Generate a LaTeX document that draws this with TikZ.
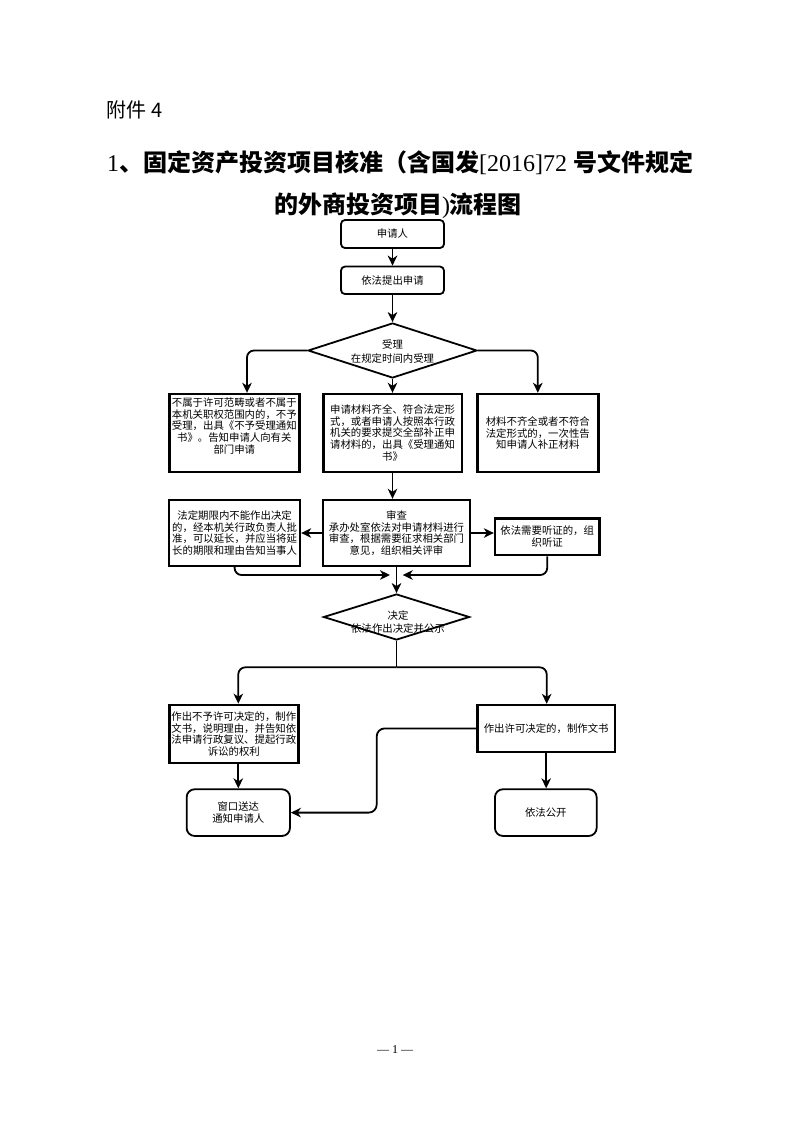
\documentclass[tikz,border=0pt]{standalone}
\usepackage{fontspec}
\setmainfont{Liberation Serif}
\newfontfamily\cjk{Noto Sans CJK SC}
\usetikzlibrary{arrows.meta,shapes.geometric}
\begin{document}
\begin{tikzpicture}[x=1pt,y=-1pt,
  every node/.style={inner sep=0pt, align=center, font=\cjk\fontsize{10.4}{11.6}\selectfont},
  rbox/.style={draw, line width=1.8pt, rounded corners=4pt},
  rbox2/.style={draw, line width=1.8pt, rounded corners=8pt},
  sbox/.style={draw, line width=2.4pt},
  dia/.style={draw, diamond, line width=1.8pt, inner sep=0pt},
  dtext/.style={font=\cjk\fontsize{10.4}{13.8}\selectfont},
  arr/.style={draw, line width=1.8pt, -{Stealth[length=10pt,width=9.5pt,inset=3pt]}},
  ln/.style={draw, line width=1.8pt}]
\useasboundingbox (0,0) rectangle (793,1122);
\fill[white] (0,0) rectangle (793,1122);

% header
\node[anchor=base west, font=\cjk\fontsize{20}{24}\selectfont] (att) at (106,117) {附件\hspace{5pt}4};
\node[anchor=base west, font=\fontsize{24}{28}\selectfont] (t1) at (107,171)
  {1{\cjk\bfseries 、固定资产投资项目核准（含国发}[2016]72 {\cjk\bfseries 号文件规定}};
\node[anchor=base, font=\fontsize{24}{28}\selectfont] (t2) at (398,213)
  {{\cjk\bfseries 的外商投资项目}){\cjk\bfseries 流程图}};

% top
\node[rbox, minimum width=103pt, minimum height=28pt] (n1) at (392.5,234) {申请人};
\node[rbox, minimum width=103pt, minimum height=27.5pt] (n2) at (392.5,280.3) {依法提出申请};
\node[dia, minimum width=169pt, minimum height=55pt] (d1) at (392.5,350.5) {};
\node[dtext] (d1t) at (392.5,351.5) {受理\\在规定时间内受理};

% row 1
\node[sbox, minimum width=130pt, minimum height=78pt] (b1) at (234.3,433) {};
\node (b1t) at ([yshift=7pt]b1.center) {不属于许可范畴或者不属于\\本机关职权范围内的，不予\\受理，出具《不予受理通知\\书》。告知申请人向有关\\部门申请};
\node[sbox, minimum width=138.4pt, minimum height=78pt] (b2) at (392.5,433)
  {申请材料齐全、符合法定形\\式，或者申请人按照本行政\\机关的要求提交全部补正申\\请材料的，出具《受理通知\\书》};
\node[sbox, minimum width=121pt, minimum height=78pt] (b3) at (537.8,433)
  {材料不齐全或者不符合\\法定形式的，一次性告\\知申请人补正材料};

% row 2
\node[sbox, minimum width=130.7pt, minimum height=66pt] (c1) at (234.6,533)
  {法定期限内不能作出决定\\的，经本机关行政负责人批\\准，可以延长，并应当将延\\长的期限和理由告知当事人};
\node[sbox, minimum width=146.7pt, minimum height=66pt] (c2) at (396.5,533)
  {审查\\承办处室依法对申请材料进行\\审查，根据需要征求相关部门\\意见，组织相关评审};
\node[sbox, minimum width=104.3pt, minimum height=36.7pt] (c3) at (547.2,536.7)
  {依法需要听证的，组\\织听证};
\coordinate (m) at (396.5,575);

% decision
\node[dia, minimum width=146pt, minimum height=46pt] (d2) at (396.5,617) {};
\node[dtext] (d2t) at (398,622) {决定\\依法作出决定并公示};
\coordinate (s) at (396.5,667.3);

% row 3
\node[sbox, minimum width=129pt, minimum height=58.3pt] (e1) at (233.8,734)
  {作出不予许可决定的，制作\\文书，说明理由，并告知依\\法申请行政复议、提起行政\\诉讼的权利};
\node[sbox, minimum width=137.7pt, minimum height=46.7pt] (e2) at (546.2,728.4)
  {作出许可决定的，制作文书};
\node[rbox2, minimum width=103.3pt, minimum height=46.7pt] (f1) at (238.3,812.6)
  {窗口送达\\通知申请人};
\node[rbox2, minimum width=101.7pt, minimum height=46.7pt] (f2) at (545.8,812.6)
  {依法公开};
\coordinate (k) at (376.7,812.6);

% page number
\node[anchor=base, font=\fontsize{12}{14}\selectfont] (pg) at (395,1053) {— 1 —};

% connectors
\draw[arr] (n1.south) -- (n2.north);
\draw[arr] (n2.south) -- (d1.north);
\draw[arr, rounded corners=7pt] (d1.west) -| ([xshift=12.7pt]b1.north);
\draw[arr, rounded corners=7pt] (d1.east) -| (b3.north);
\draw[arr] (d1.south) -- (b2.north);
\draw[arr] (b2.south) -- (b2.south |- c2.north);
\draw[arr] (c2.west) -- (c1.east);
\draw[arr] (c2.east) -- (c2.east -| c3.west);
\draw[arr, rounded corners=7pt] (c1.south) |- ([xshift=-6.5pt]m);
\draw[arr, rounded corners=7pt] (c3.south) |- ([xshift=6.2pt]m);
\draw[arr] (c2.south) -- (d2.north);
\draw[ln] (d2.south) -- (s);
\draw[arr, rounded corners=7pt] (s) -| ([xshift=4.5pt]e1.north);
\draw[arr, rounded corners=7pt] (s) -| ([xshift=0.5pt]e2.north);
\draw[arr] (f1.north |- e1.south) -- (f1.north);
\draw[arr] (e2.south) -- (e2.south |- f2.north);
\draw[arr, rounded corners=8pt] (e2.west) -| (k) -- (f1.east);
\end{tikzpicture}
\end{document}
